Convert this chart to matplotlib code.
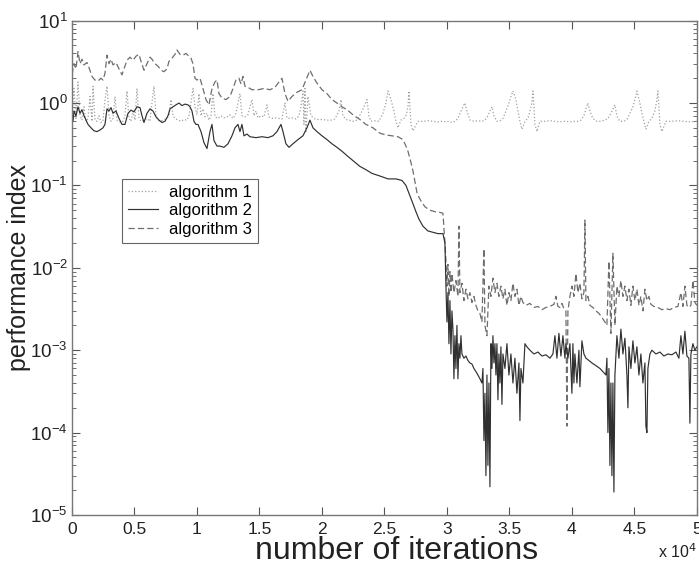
import matplotlib
matplotlib.use("Agg")
import matplotlib.pyplot as plt
from matplotlib.ticker import FixedLocator, LogLocator, NullFormatter

plt.rcParams['font.family'] = ['Liberation Sans', 'DejaVu Sans']

# algorithm 1 (dotted)
iters_a1 = [0, 160, 320, 480, 640, 800, 960, 1120, 1280, 1440, 1600, 1680, 1840, 2000, 2160, 2320,
            2480, 2640, 2800, 2960, 3120, 3280, 3440, 3600, 3760, 3920, 4080, 4240, 4400, 4560,
            4720, 4880, 5040, 5200, 5360, 5520, 5760, 6000, 6240, 6400, 6560, 6720, 6880, 7040,
            7280, 7520, 7760, 7920, 8080, 8240, 8480, 8720, 8960, 9200, 9360, 9520, 9680, 9840,
            10000, 10160, 10320, 10480, 10640, 10800, 10960, 11120, 11280, 11440, 11680, 11920,
            12160, 12400, 12640, 12880, 13120, 13280, 13440, 13600, 13840, 14080, 14240, 14400,
            14560, 14720, 14880, 15120, 15360, 15600, 15760, 16000, 16240, 16560, 16800, 17040,
            17200, 17440, 17680, 17920, 18160, 18320, 18480, 18560, 18640, 18720, 18880, 19120,
            19440, 19760, 20080, 20400, 20720, 21040, 21360, 21520, 21680, 21920, 22160, 22480,
            22800, 23120, 23360, 23600, 23760, 23920, 24240, 24560, 24880, 25120, 25280, 25520,
            25760, 25920, 26080, 26320, 26560, 26720, 26880, 26960, 27040, 27120, 27280, 27680,
            28080, 28480, 28880, 29280, 29600, 29920, 30160, 30400, 30640, 30880, 31120, 31280,
            31440, 31600, 31840, 32160, 32480, 32800, 33040, 33280, 33440, 33600, 33760, 34000,
            34240, 34480, 34720, 34960, 35120, 35280, 35520, 35680, 35840, 36000, 36240, 36480,
            36640, 36800, 36880, 36960, 37040, 37200, 37440, 37840, 38240, 38640, 39040, 39440,
            39840, 40240, 40480, 40720, 40960, 41120, 41280, 41440, 41680, 42000, 42320, 42640,
            42880, 43120, 43280, 43440, 43600, 43840, 44160, 44400, 44640, 44880, 45040, 45200,
            45440, 45600, 45760, 45920, 46160, 46400, 46640, 46800, 46880, 46960, 47040, 47200,
            47520, 48000, 48480, 48960, 49440, 50000]
perf_a1 = [0.7, 1.5, 0.65, 1.8, 0.7, 0.62, 0.9, 0.6, 0.65, 1.2, 0.6, 1.6, 0.62, 0.6, 0.7, 0.58,
           0.6, 1.1, 1.6, 0.7, 0.6, 0.65, 1.2, 0.62, 0.6, 0.58, 0.6, 0.7, 1.4, 0.65,
           0.6, 0.8, 0.62, 1.5, 0.65, 0.6, 0.62, 0.65, 0.6, 1.0, 1.6, 0.7, 0.62, 0.6,
           0.62, 0.65, 0.7, 1.1, 0.7, 0.65, 0.62, 0.6, 0.63, 0.62, 0.7, 1.0, 1.5, 0.9,
           0.72, 1.3, 0.7, 0.85, 0.68, 0.75, 0.62, 0.7, 1.3, 0.68, 0.65, 0.7,
           0.66, 0.68, 0.72, 0.65, 0.75, 1.0, 1.3, 0.7, 0.68, 0.72, 0.9, 1.1,
           0.7, 0.8, 0.66, 0.7, 0.68, 0.95, 0.68, 0.65, 0.66, 0.65, 0.64, 1.0,
           0.66, 0.65, 0.66, 0.64, 0.7, 0.9, 1.4, 0.55, 1.5, 0.45, 1.2, 0.7,
           0.64, 0.63, 0.63, 0.62, 0.62, 0.64, 0.8, 1.1, 0.7, 0.63, 0.62, 0.6,
           0.62, 0.75, 0.9, 1.1, 0.7, 0.6, 0.61, 0.6, 0.75, 1.0, 1.4, 1.1,
           0.8, 0.6, 0.5, 0.62, 0.65, 0.7, 0.9, 1.4, 0.9, 0.55, 0.46, 0.6,
           0.6, 0.61, 0.6, 0.59, 0.6, 0.59, 0.6, 0.58, 0.6, 0.65, 0.8, 0.9,
           1.0, 0.8, 0.62, 0.6, 0.61, 0.6, 0.62, 0.7, 0.8, 0.9, 0.7, 0.6,
           0.61, 0.65, 0.8, 1.0, 1.2, 1.4, 1.1, 0.8, 0.6, 0.48, 0.6, 0.65,
           0.8, 1.0, 1.4, 0.9, 0.55, 0.45, 0.6, 0.6, 0.61, 0.6, 0.59, 0.6,
           0.59, 0.6, 0.6, 0.62, 0.7, 0.85, 1.0, 0.8, 0.65, 0.6, 0.6, 0.62,
           0.65, 0.75, 0.85, 0.95, 0.7, 0.6, 0.6, 0.63, 0.75, 0.9, 1.1, 1.4,
           1.0, 0.75, 0.6, 0.48, 0.6, 0.65, 0.8, 1.1, 1.4, 0.9, 0.55, 0.45,
           0.6, 0.6, 0.61, 0.6, 0.59, 0.6]

# algorithm 2 (solid)
iters_a2 = [0, 80, 160, 320, 480, 640, 800, 960, 1120, 1280,
            1520, 1760, 2000, 2240, 2480, 2640, 2800, 2960, 3120, 3280,
            3520, 3760, 4000, 4240, 4480, 4720, 4960, 5200, 5440, 5600,
            5760, 6000, 6240, 6480, 6720, 6960, 7200, 7440, 7680, 7840,
            8080, 8320, 8560, 8800, 9040, 9280, 9440, 9600, 9760, 9920,
            10080, 10320, 10560, 10800, 11040, 11200, 11360, 11600, 11840, 12160,
            12480, 12800, 13040, 13280, 13440, 13600, 13760, 14000, 14240, 14720,
            15200, 15680, 16080, 16400, 16720, 16880, 17120, 17360, 17680, 18080,
            18480, 18800, 19040, 19280, 19600, 20000, 20400, 20800, 21200, 21600,
            22000, 22480, 23040, 23520, 24000, 24640, 25280, 25920, 26400, 26720,
            27040, 27280, 27520, 27760, 28080, 28480, 28880, 29280, 29680, 29840,
            29920, 30000, 30080, 30160, 30240, 30320, 30400, 30480, 30560, 30640,
            30720, 30800, 30880, 30960, 31040, 31120, 31200, 31360, 31520, 31680,
            31840, 32000, 32160, 32320, 32480, 32640, 32800, 32880, 32960, 33040,
            33120, 33200, 33280, 33360, 33440, 33520, 33600, 33680, 33760, 33840,
            33920, 34000, 34080, 34160, 34240, 34320, 34400, 34480, 34640, 34800,
            34960, 35120, 35280, 35440, 35600, 35760, 35840, 35920, 36080, 36240,
            36400, 36640, 36960, 37280, 37600, 37920, 38240, 38480, 38640, 38800,
            38960, 39120, 39280, 39440, 39520, 39680, 39840, 39920, 40000, 40080,
            40160, 40240, 40400, 40560, 40640, 40800, 40960, 41120, 41360, 41600,
            41920, 42240, 42480, 42720, 42800, 42880, 42960, 43040, 43120, 43200,
            43280, 43360, 43440, 43600, 43760, 43920, 44080, 44240, 44400, 44480,
            44560, 44720, 44880, 45040, 45200, 45360, 45520, 45680, 45840, 45920,
            46000, 46080, 46240, 46400, 46720, 47040, 47360, 47680, 48000, 48320,
            48560, 48720, 48880, 49040, 49200, 49360, 49440, 49520, 49680, 49840,
            50000]
perf_a2 = [0.68, 0.6, 0.8, 0.7, 0.9, 0.75, 0.83, 0.7, 0.62, 0.55,
           0.5, 0.46, 0.45, 0.47, 0.5, 0.55, 0.85, 0.8, 0.88, 0.75,
           0.8, 0.65, 0.55, 0.55, 0.75, 0.82, 0.78, 0.9, 0.88, 0.7,
           0.58, 0.75, 0.85, 0.8, 0.68, 0.62, 0.58, 0.6, 0.7, 0.85,
           0.9, 0.95, 1.0, 0.93, 0.97, 0.95, 0.9, 0.8, 0.6, 0.55,
           0.55, 0.45, 0.33, 0.28, 0.45, 0.55, 0.35, 0.3, 0.3, 0.29,
           0.32, 0.4, 0.5, 0.55, 0.45, 0.55, 0.4, 0.42, 0.39, 0.38,
           0.39, 0.38, 0.4, 0.45, 0.55, 0.45, 0.32, 0.29, 0.32, 0.36,
           0.4, 0.5, 0.62, 0.5, 0.45, 0.4, 0.36, 0.32, 0.29, 0.26,
           0.23, 0.2, 0.17, 0.155, 0.14, 0.13, 0.12, 0.12, 0.115, 0.1,
           0.075, 0.06, 0.048, 0.039, 0.032, 0.028, 0.027, 0.026, 0.026, 0.02,
           0.006, 0.0022, 0.005, 0.0012, 0.004, 0.0009, 0.003, 0.0018, 0.00045, 0.0015,
           0.0006, 0.002, 0.00045, 0.0012, 0.0008, 0.0015, 0.0009, 0.0008, 0.00085, 0.00075,
           0.0007, 0.00068, 0.0006, 0.00055, 0.0005, 0.00045, 0.0004, 0.0006, 0.00008, 0.0003,
           0.00003, 0.0005, 0.00004, 0.0004, 0.000022, 0.0012, 0.0006, 0.0015, 0.0007, 0.0012,
           0.0005, 0.0012, 0.00025, 0.0009, 0.0004, 0.0011, 0.00022, 0.0009, 0.0006, 0.0012,
           0.0005, 0.0009, 0.0004, 0.0008, 0.0003, 0.0007, 0.00014, 0.0006, 0.0004, 0.0012,
           0.0011, 0.001, 0.0009, 0.00095, 0.00085, 0.00088, 0.0008, 0.0009, 0.0015, 0.0008,
           0.0016, 0.00085, 0.0015, 0.0008, 0.0012, 0.0008, 0.0012, 0.0006, 0.0003, 0.0012,
           0.0004, 0.0009, 0.0004, 0.001, 0.00036, 0.0013, 0.0009, 0.0008, 0.00075, 0.0007,
           0.00065, 0.0006, 0.00055, 0.0005, 0.0008, 0.0001, 0.0006, 0.00004, 0.0004, 0.00003,
           0.0004, 0.000019, 0.0005, 0.0015, 0.0008, 0.0018, 0.0009, 0.0014, 0.0005, 0.0002,
           0.0011, 0.0006, 0.0013, 0.0007, 0.0011, 0.0005, 0.0009, 0.0004, 0.0007, 0.00012,
           0.0001, 0.0006, 0.0009, 0.001, 0.0009, 0.00095, 0.00085, 0.0009, 0.00088, 0.00095,
           0.0008, 0.0015, 0.0009, 0.0017, 0.00085, 0.0008, 0.00013, 0.0009, 0.0012, 0.001,
           0.0011]

# algorithm 3 (dashed)
iters_a3 = [0, 160, 320, 480, 640, 800, 960, 1200, 1360, 1600, 1840, 2080, 2320, 2480, 2640, 2800,
            2960, 3120, 3280, 3520, 3760, 4000, 4160, 4400, 4640, 4880, 5120, 5360, 5520, 5760,
            6000, 6240, 6400, 6640, 6880, 7120, 7360, 7600, 7760, 8000, 8240, 8400, 8640, 8880,
            9120, 9360, 9520, 9680, 9840, 10000, 10240, 10480, 10720, 10960, 11200, 11440, 11600,
            11760, 12000, 12320, 12640, 12880, 13120, 13360, 13520, 13680, 13840, 14080, 14400,
            14880, 15360, 15840, 16240, 16560, 16800, 17040, 17280, 17600, 18000, 18400, 18720,
            19040, 19280, 19600, 20000, 20400, 20800, 21200, 21600, 22000, 22480, 23040, 23520,
            24080, 24640, 25120, 25600, 26080, 26480, 26720, 26880, 27120, 27280, 27440, 27600,
            27760, 27920, 28240, 28640, 29040, 29440, 29680, 29840,
            29920, 30000, 30080, 30160, 30240, 30320, 30400, 30560, 30720, 30880, 30960, 31040,
            31200, 31360, 31520, 31680, 31840, 32000, 32160, 32320, 32480, 32640, 32800, 32960,
            33040, 33200, 33360, 33520, 33680, 33840, 34000, 34160, 34320, 34480, 34640, 34800,
            34960, 35120, 35280, 35440, 35600, 35760, 35920, 36080, 36320, 36640, 36960, 37280,
            37600, 37920, 38240, 38560, 38720, 38880, 39040, 39200, 39360, 39520, 39600, 39680,
            39840, 40000, 40160, 40320, 40480, 40640, 40800, 40960, 41040, 41120, 41280, 41440,
            41680, 41920, 42160, 42400, 42640, 42800, 42960, 43120, 43280, 43440, 43600, 43760,
            43920, 44080, 44240, 44400, 44560, 44720, 44880, 45040, 45200, 45360, 45520, 45680,
            45840, 46000, 46160, 46320, 46560, 46880, 47200, 47520, 47840, 48160, 48480, 48720,
            48880, 49040, 49200, 49360, 49520, 49680, 49840, 50000]
perf_a3 = [2.2, 3.0, 2.6, 4.2, 3.0, 3.4, 2.9, 3.1, 2.7, 2.1, 1.9, 1.85, 2.0, 1.9, 2.3, 3.8,
           3.0, 3.4, 2.9, 3.1, 2.6, 2.2, 2.6, 3.3, 3.6, 3.3, 3.7, 3.9, 3.2, 2.5,
           3.0, 3.6, 3.4, 3.0, 2.8, 2.5, 2.4, 2.6, 3.2, 3.5, 3.9, 4.4, 3.9, 3.8,
           4.0, 3.7, 3.5, 3.0, 2.0, 1.9, 2.0, 1.5, 1.1, 0.95, 1.5, 1.8, 1.9,
           1.3, 1.15, 1.1, 1.2, 1.5, 1.9, 2.0, 1.7, 2.1, 1.6, 1.55, 1.45,
           1.45, 1.5, 1.45, 1.55, 1.8, 2.0, 1.3, 1.05, 1.2, 1.35, 1.45, 1.9,
           2.5, 2.1, 1.75, 1.45, 1.3, 1.1, 1.0, 0.9, 0.83, 0.72, 0.63, 0.55,
           0.5, 0.43, 0.41, 0.4, 0.39, 0.36, 0.3, 0.26, 0.19, 0.15, 0.11, 0.082,
           0.072, 0.065, 0.055, 0.05, 0.048, 0.047, 0.046, 0.02,
           0.012, 0.006, 0.011, 0.0045, 0.009, 0.005, 0.0085, 0.005, 0.007, 0.0045, 0.032, 0.005,
           0.0065, 0.004, 0.0055, 0.0042, 0.005, 0.0038, 0.0045, 0.0035, 0.003, 0.0028, 0.0022, 0.017,
           0.002, 0.0015, 0.006, 0.0045, 0.0075, 0.005, 0.0065, 0.0045, 0.006, 0.0042, 0.0055, 0.0035,
           0.005, 0.004, 0.0065, 0.0045, 0.0055, 0.0035, 0.0045, 0.0038, 0.0035, 0.0037, 0.0033, 0.0034,
           0.0031, 0.0033, 0.0034, 0.0036, 0.0045, 0.0034, 0.0033, 0.0037, 0.0032, 0.003, 0.00012, 0.003,
           0.0045, 0.006, 0.0045, 0.0085, 0.005, 0.0065, 0.0042, 0.005, 0.038, 0.004, 0.0045, 0.0035,
           0.0033, 0.003, 0.0028, 0.0025, 0.0022, 0.002, 0.012, 0.0016, 0.015, 0.002, 0.006, 0.0045,
           0.007, 0.0045, 0.006, 0.004, 0.0055, 0.0035, 0.006, 0.004, 0.0055, 0.0035, 0.0045, 0.003,
           0.0055, 0.004, 0.0045, 0.0036, 0.0034, 0.0033, 0.0031, 0.0032, 0.0031, 0.0033, 0.0034, 0.005,
           0.0034, 0.006, 0.0035, 0.0033, 0.0035, 0.007, 0.0038, 0.0035]

x_ticks = [0, 5000, 10000, 15000, 20000, 25000, 30000, 35000, 40000, 45000, 50000]
x_tick_labels = ['0', '0.5', '1', '1.5', '2', '2.5', '3', '3.5', '4', '4.5', '5']

fig = plt.figure(figsize=(6.99, 5.65), dpi=100)
ax = fig.add_axes([0.103, 0.0885, 0.894, 0.875])

ax.plot(iters_a1, perf_a1, linestyle=':', color='#a0a0a0', lw=0.9, label='algorithm 1')
ax.plot(iters_a3, perf_a3, linestyle=(0, (5, 2.5)), color='#6e6e6e', lw=0.9, label='algorithm 3')
ax.plot(iters_a2, perf_a2, linestyle='-', color='#303030', lw=0.85, label='algorithm 2')

ax.set_yscale('log')
ax.set_xlim(0, 50000)
ax.set_ylim(1e-5, 10)

ax.xaxis.set_major_locator(FixedLocator(x_ticks))
ax.set_xticklabels(x_tick_labels)
ax.yaxis.set_major_locator(LogLocator(base=10, numticks=10))
ax.yaxis.set_minor_locator(LogLocator(base=10, subs=range(2, 10), numticks=10))
ax.yaxis.set_minor_formatter(NullFormatter())

ax.tick_params(which='both', direction='in', top=True, right=True, colors='#555555',
               labelcolor='#222222')
ax.tick_params(axis='x', labelsize=12.5, pad=5)
ax.tick_params(axis='y', labelsize=13.5, pad=3)
ax.tick_params(which='major', length=6, width=0.8)
ax.tick_params(which='minor', length=3, width=0.6)
for sp in ax.spines.values():
    sp.set_color('#777777')
    sp.set_linewidth(1.0)

ax.set_xlabel('number of iterations', fontsize=23, color='#222222')
ax.xaxis.set_label_coords(0.52, -0.042)
ax.set_ylabel('performance index', fontsize=18, color='#222222')
ax.yaxis.set_label_coords(-0.066, 0.5)
fig.text(0.997, 0.012, r'x 10$^4$', fontsize=11.5, color='#222222', ha='right')

handles, labels = ax.get_legend_handles_labels()
order = [0, 2, 1]
leg = ax.legend([handles[i] for i in order], [labels[i] for i in order],
                loc='upper left', bbox_to_anchor=(0.08, 0.68), fontsize=12,
                handlelength=1.8, handletextpad=0.7, labelspacing=0.22,
                borderpad=0.35, borderaxespad=0, fancybox=False, framealpha=1)
leg.get_frame().set_edgecolor('#666666')
leg.get_frame().set_linewidth(0.8)

fig.savefig('out.png', dpi=100)
